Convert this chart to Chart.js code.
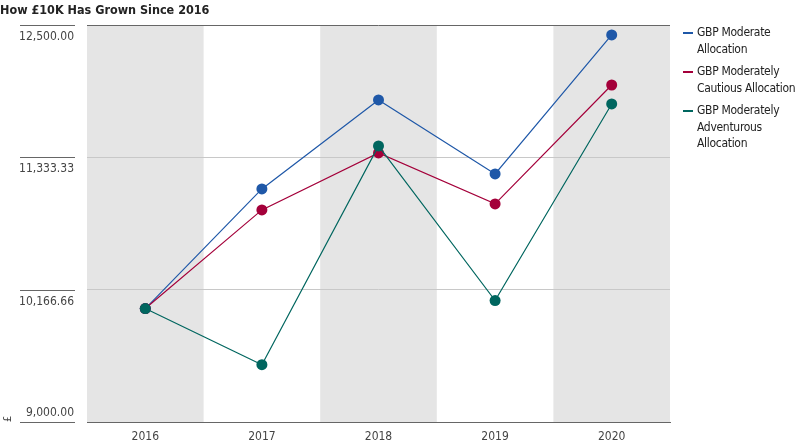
<!DOCTYPE html>
<html>
<head>
<meta charset="utf-8">
<script src="https://cdn.jsdelivr.net/npm/chart.js@4.4.1/dist/chart.umd.min.js"></script>
<style>
  body { margin: 0; background: #fff; }
  #wrap { position: relative; width: 800px; height: 446px; overflow: hidden; }
  #legend {
    position: absolute; left: 682px; top: 24px;
    font-family: "DejaVu Sans Condensed", sans-serif;
    font-size: 12px; line-height: 16.5px; color: #222;
    white-space: nowrap; letter-spacing: -0.3px;
  }
  #legend .item { position: relative; padding-left: 15px; margin-bottom: 6px; }
  #legend .mark { position: absolute; left: 1px; top: 8px; width: 10px; height: 2px; }
</style>
</head>
<body>
<div id="wrap">
  <canvas id="chart"></canvas>
  <div id="legend"></div>
</div>
<script>
const years = ['2016', '2017', '2018', '2019', '2020'];
const moderate = [10000, 11055, 11839, 11187, 12412];
const cautious = [10000, 10870, 11372, 10923, 11971];
const adventurous = [10000, 9505, 11434, 10071, 11804];
const yTicks = [9000, 10166.66, 11333.33, 12500];

const seriesNames = [
  ['GBP Moderate', 'Allocation'],
  ['GBP Moderately', 'Cautious Allocation'],
  ['GBP Moderately', 'Adventurous', 'Allocation']
];
const colors = ['#1f58a8', '#a4003a', '#00665f'];

const fontFamily = '"DejaVu Sans Condensed", sans-serif';

// legend built as html so the labels can wrap like the original
document.getElementById('legend').innerHTML = seriesNames.map((lines, i) =>
  `<div class="item"><span class="mark" style="background:${colors[i]}"></span>${lines.join('<br>')}</div>`
).join('');

// grey bands behind every other year + short tick lines at left
const decor = {
  id: 'decor',
  beforeDraw(chart) {
    const { ctx, chartArea, scales } = chart;
    const x = scales.x;
    const half = (x.getPixelForValue(1) - x.getPixelForValue(0)) / 2;
    ctx.save();
    ctx.fillStyle = '#e5e5e5';
    years.forEach((y, i) => {
      if (i % 2 === 0) {
        const c = x.getPixelForValue(i);
        ctx.fillRect(c - half, chartArea.top, half * 2, chartArea.bottom - chartArea.top);
      }
    });
    ctx.restore();
  },
  afterDraw(chart) {
    const { ctx, scales } = chart;
    ctx.save();
    ctx.strokeStyle = '#666';
    ctx.lineWidth = 1;
    yTicks.forEach(v => {
      const py = Math.round(scales.y.getPixelForValue(v)) + 0.5;
      ctx.beginPath();
      ctx.moveTo(20, py);
      ctx.lineTo(75, py);
      ctx.stroke();
    });
    ctx.restore();
  }
};

function makeSet(label, data, color, order) {
  return {
    label: label,
    data: data,
    borderColor: color,
    backgroundColor: color,
    borderWidth: 1.2,
    pointRadius: 5.5,
    pointHoverRadius: 5.5,
    pointBorderWidth: 0,
    tension: 0,
    order: order
  };
}

new Chart(document.getElementById('chart'), {
  type: 'line',
  data: {
    labels: years,
    datasets: [
      makeSet(seriesNames[0].join(' '), moderate, colors[0], 3),
      makeSet(seriesNames[1].join(' '), cautious, colors[1], 2),
      makeSet(seriesNames[2].join(' '), adventurous, colors[2], 1)
    ]
  },
  options: {
    responsive: true,
    maintainAspectRatio: false,
    animation: false,
    layout: { padding: { left: 0, right: 130, top: 0, bottom: 2 } },
    plugins: {
      legend: { display: false },
      tooltip: { enabled: false },
      title: {
        display: true,
        text: 'How £10K Has Grown Since 2016',
        align: 'start',
        color: '#222',
        font: { family: fontFamily, size: 12.5, weight: 'bold' },
        padding: { top: 3, bottom: 7 }
      }
    },
    scales: {
      x: {
        offset: true,
        afterFit(scale) {
          scale.height = 22;
        },
        grid: { display: false, drawTicks: false },
        border: { display: true, color: '#666', width: 1 },
        ticks: { color: '#444', padding: 8, font: { family: fontFamily, size: 12 } }
      },
      y: {
        min: 9000,
        max: 12500,
        afterBuildTicks(scale) {
          scale.ticks = yTicks.map(v => ({ value: v }));
        },
        afterFit(scale) {
          scale.width = 87;
          scale.paddingTop = 0;
          scale.paddingBottom = 0;
        },
        grid: {
          drawTicks: false,
          color: ctx => {
            const v = ctx.tick && ctx.tick.value;
            if (v === 12500) return '#666';
            if (v === 9000) return 'rgba(0,0,0,0)';
            return '#c8c8c8';
          }
        },
        border: { display: false },
        title: {
          display: true,
          text: '£',
          align: 'start',
          color: '#444',
          font: { family: fontFamily, size: 11 },
          padding: 2
        },
        ticks: {
          color: '#444',
          padding: 13,
          labelOffset: 12,
          font: { family: fontFamily, size: 12 },
          callback(value) {
            const s = Number(value).toLocaleString('en-US', { minimumFractionDigits: 2, maximumFractionDigits: 2 });
            // the lowest label sits above its line, the others below
            return value === 9000 ? [s, '', '', ''] : s;
          }
        }
      }
    }
  },
  plugins: [decor]
});
</script>
</body>
</html>
